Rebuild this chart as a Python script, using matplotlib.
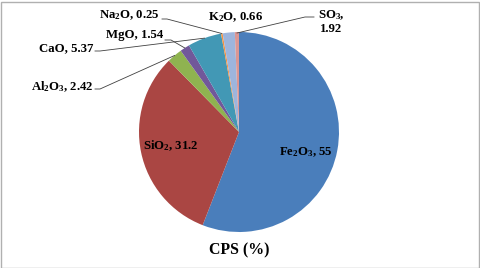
import matplotlib
matplotlib.use("Agg")
import matplotlib.pyplot as plt
import numpy as np

plt.rcParams["mathtext.default"] = "regular"

categories = ["Fe$_2$O$_3$", "SiO$_2$", "Al$_2$O$_3$", "MgO", "CaO", "Na$_2$O", "SO$_3$", "K$_2$O"]
values = [55, 31.2, 2.42, 1.54, 5.37, 0.25, 1.92, 0.66]
value_labels = ["55", "31.2", "2.42", "1.54", "5.37", "0.25", "1.92", "0.66"]
colors = ["#4A7EBB", "#AA4643", "#8FB350", "#71589A", "#4298B5", "#F69240", "#9DB5DD", "#DB9694"]
title = "CPS (%)"

W, H = 480, 268
fig = plt.figure(figsize=(W / 100, H / 100), dpi=100)
ax = fig.add_axes([0, 0, 1, 1])

cx, cy, r = 239, H - 132, 100
wedges, _ = ax.pie(values, colors=colors, startangle=90, counterclock=False,
                   center=(cx, cy), radius=r, frame=True,
                   wedgeprops=dict(linewidth=0))
ax.set_xlim(0, W)
ax.set_ylim(0, H)
ax.set_aspect("equal")
ax.axis("off")

font = dict(family="Liberation Serif", fontweight="bold", fontsize=9.2, color="black")

def lab(i):
    return f"{categories[i]}, {value_labels[i]}"

def edge_point(i, frac=1.0):
    w = wedges[i]
    ang = np.deg2rad((w.theta1 + w.theta2) / 2)
    return cx + r * frac * np.cos(ang), cy + r * frac * np.sin(ang)

def Y(y):
    return H - y

# inside labels
ax.text(171, Y(146), lab(1), ha="center", va="center", **font)
ax.text(306, Y(152), lab(0), ha="center", va="center", **font)

lc = "#404040"
# Al2O3
ax.text(93, Y(87), lab(2), ha="right", va="center", **font)
px, py = edge_point(2)
ax.plot([95, 100, px], [Y(89), Y(89), py], color=lc, lw=0.6)
# MgO
ax.text(163, Y(35), lab(3), ha="right", va="center", **font)
px, py = edge_point(3)
ax.plot([165, 171, px], [Y(40), Y(40), py], color=lc, lw=0.6)
# CaO
ax.text(93, Y(48), lab(4), ha="right", va="center", **font)
px, py = edge_point(4)
ax.plot([95, 100, px], [Y(51), Y(51), py], color=lc, lw=0.6)
# Na2O
ax.text(160, Y(15), lab(5), ha="right", va="center", **font)
px, py = edge_point(5)
ax.plot([162, 167, px], [Y(19), Y(19), py], color=lc, lw=0.6)
# K2O
ax.text(235, Y(17), lab(7), ha="center", va="center", **font)
# SO3
ax.text(331, Y(22), f"{categories[6]},\n{value_labels[6]}", ha="center", va="center",
        linespacing=1.1, **font)
ax.plot([314, 305, 237], [Y(17), Y(17), Y(33)], color=lc, lw=0.6)

ax.text(239, Y(250), title, ha="center", va="center",
        family="Liberation Serif", fontweight="bold", fontsize=11.4)

fig.patches.append(plt.Rectangle((0.5 / W, 0.5 / H), 1 - 2 / W, 1 - 2 / H,
                                 transform=fig.transFigure, fill=False,
                                 edgecolor="#B0B0B0", lw=1))

fig.savefig("out.png", dpi=100)
